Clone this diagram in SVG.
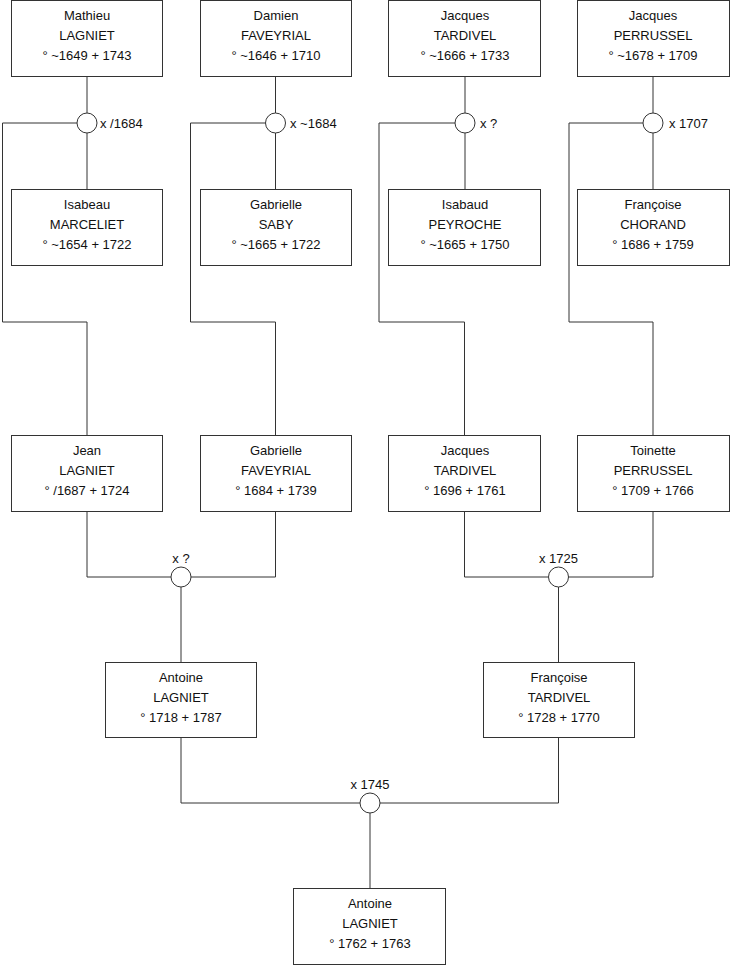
<svg xmlns="http://www.w3.org/2000/svg" width="740" height="975" viewBox="0 0 740 975">
<style>
.box{fill:#fff;stroke:#333;stroke-width:1}
.t{font-family:"Liberation Sans",Arial,sans-serif;font-size:13px;fill:#111;text-anchor:middle}
.l{font-family:"Liberation Sans",Arial,sans-serif;font-size:13px;fill:#111}
.c{fill:#fff;stroke:#333;stroke-width:1}
.w{fill:none;stroke:#333;stroke-width:1}
</style>
<rect width="740" height="975" fill="#fff"/>
<g id="connectors">
<path class="w" d="M87 76.5V113M87 133V189.5"/>
<path class="w" d="M275.5 76.5V113M275.5 133V189.5"/>
<path class="w" d="M465 76.5V113M465 133V189.5"/>
<path class="w" d="M653 76.5V113M653 133V189.5"/>
<path class="w" d="M77 123H2.5V322H87V435.5"/>
<path class="w" d="M265.5 123H190.5V322H275.5V435.5"/>
<path class="w" d="M455 123H379V322H464.5V435.5"/>
<path class="w" d="M643 123H569V322H653V435.5"/>
<path class="w" d="M87 511.5V577H171M191 577H275.5V511.5"/>
<path class="w" d="M464.5 511.5V577H548M568 577H653V511.5"/>
<path class="w" d="M181 587V662.5M558.5 587V662.5"/>
<path class="w" d="M181 737.5V803H360M380 803H558.5V737.5"/>
<path class="w" d="M370 813V888.5"/>
</g>
<g id="unions">
<g id="u1"><circle class="c" cx="87" cy="123" r="10"/><text class="l" x="100" y="128">x /1684</text></g>
<g id="u2"><circle class="c" cx="275.5" cy="123" r="10"/><text class="l" x="290" y="128">x ~1684</text></g>
<g id="u3"><circle class="c" cx="465" cy="123" r="10"/><text class="l" x="480" y="128">x ?</text></g>
<g id="u4"><circle class="c" cx="653" cy="123" r="10"/><text class="l" x="669" y="128">x 1707</text></g>
<g id="u5"><circle class="c" cx="181" cy="577" r="10"/><text class="t" x="181" y="563">x ?</text></g>
<g id="u6"><circle class="c" cx="558.5" cy="577" r="10"/><text class="t" x="558.5" y="563">x 1725</text></g>
<g id="u7"><circle class="c" cx="370" cy="803" r="10"/><text class="t" x="370" y="789">x 1745</text></g>
</g>
<g id="p1"><rect class="box" x="11.5" y="0.5" width="151" height="76"/><text class="t" x="87" y="20">Mathieu</text><text class="t" x="87" y="40">LAGNIET</text><text class="t" x="87" y="60">° ~1649 + 1743</text></g>
<g id="p2"><rect class="box" x="200.5" y="0.5" width="151" height="76"/><text class="t" x="276" y="20">Damien</text><text class="t" x="276" y="40">FAVEYRIAL</text><text class="t" x="276" y="60">° ~1646 + 1710</text></g>
<g id="p3"><rect class="box" x="388.5" y="0.5" width="152" height="76"/><text class="t" x="465" y="20">Jacques</text><text class="t" x="465" y="40">TARDIVEL</text><text class="t" x="465" y="60">° ~1666 + 1733</text></g>
<g id="p4"><rect class="box" x="577.5" y="0.5" width="152" height="76"/><text class="t" x="653" y="20">Jacques</text><text class="t" x="653" y="40">PERRUSSEL</text><text class="t" x="653" y="60">° ~1678 + 1709</text></g>
<g id="p5"><rect class="box" x="11.5" y="189.5" width="151" height="76"/><text class="t" x="87" y="209">Isabeau</text><text class="t" x="87" y="229">MARCELIET</text><text class="t" x="87" y="249">° ~1654 + 1722</text></g>
<g id="p6"><rect class="box" x="200.5" y="189.5" width="151" height="76"/><text class="t" x="276" y="209">Gabrielle</text><text class="t" x="276" y="229">SABY</text><text class="t" x="276" y="249">° ~1665 + 1722</text></g>
<g id="p7"><rect class="box" x="388.5" y="189.5" width="152" height="76"/><text class="t" x="465" y="209">Isabaud</text><text class="t" x="465" y="229">PEYROCHE</text><text class="t" x="465" y="249">° ~1665 + 1750</text></g>
<g id="p8"><rect class="box" x="577.5" y="189.5" width="152" height="76"/><text class="t" x="653" y="209">Françoise</text><text class="t" x="653" y="229">CHORAND</text><text class="t" x="653" y="249">° 1686 + 1759</text></g>
<g id="p9"><rect class="box" x="11.5" y="435.5" width="151" height="76"/><text class="t" x="87" y="455">Jean</text><text class="t" x="87" y="475">LAGNIET</text><text class="t" x="87" y="495">° /1687 + 1724</text></g>
<g id="p10"><rect class="box" x="200.5" y="435.5" width="151" height="76"/><text class="t" x="276" y="455">Gabrielle</text><text class="t" x="276" y="475">FAVEYRIAL</text><text class="t" x="276" y="495">° 1684 + 1739</text></g>
<g id="p11"><rect class="box" x="388.5" y="435.5" width="152" height="76"/><text class="t" x="465" y="455">Jacques</text><text class="t" x="465" y="475">TARDIVEL</text><text class="t" x="465" y="495">° 1696 + 1761</text></g>
<g id="p12"><rect class="box" x="577.5" y="435.5" width="152" height="76"/><text class="t" x="653" y="455">Toinette</text><text class="t" x="653" y="475">PERRUSSEL</text><text class="t" x="653" y="495">° 1709 + 1766</text></g>
<g id="p13"><rect class="box" x="105.5" y="662.5" width="151" height="75"/><text class="t" x="181" y="682">Antoine</text><text class="t" x="181" y="702">LAGNIET</text><text class="t" x="181" y="722">° 1718 + 1787</text></g>
<g id="p14"><rect class="box" x="483.5" y="662.5" width="151" height="75"/><text class="t" x="559" y="682">Françoise</text><text class="t" x="559" y="702">TARDIVEL</text><text class="t" x="559" y="722">° 1728 + 1770</text></g>
<g id="p15"><rect class="box" x="293.5" y="888.5" width="152" height="76"/><text class="t" x="370" y="908">Antoine</text><text class="t" x="370" y="928">LAGNIET</text><text class="t" x="370" y="948">° 1762 + 1763</text></g>
</svg>
